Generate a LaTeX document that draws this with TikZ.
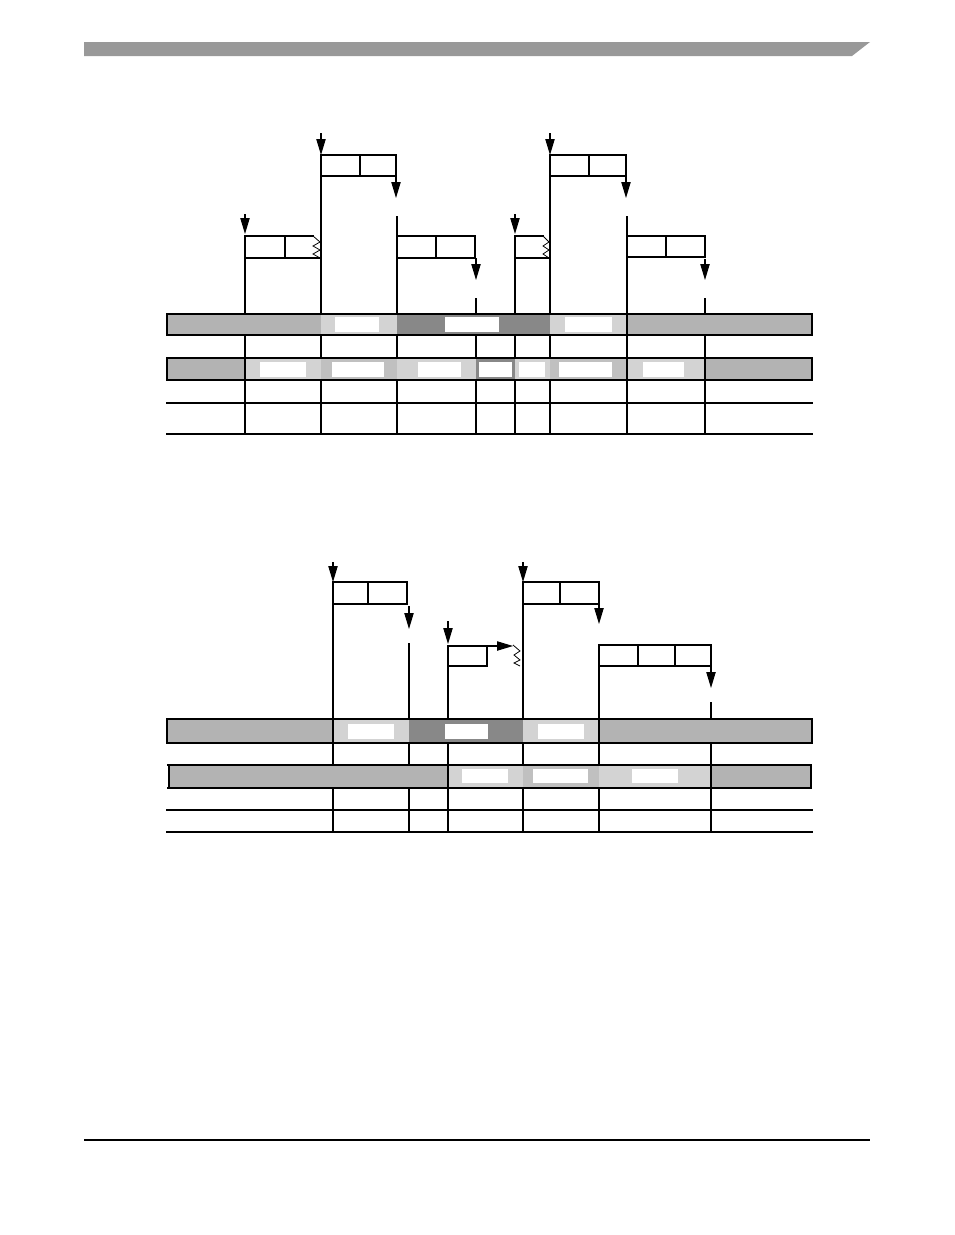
\documentclass[tikz,border=0pt]{standalone}
\usetikzlibrary{arrows.meta}
\definecolor{bargray}{HTML}{B3B3B3}
\definecolor{midgray}{HTML}{C0C0C0}
\definecolor{lightck}{HTML}{D3D3D3}
\definecolor{darkck}{HTML}{888888}
\definecolor{headgray}{HTML}{999999}
\tikzset{
  ln/.style={line width=0.85pt, line cap=rect},
  arr/.style={line width=0.8pt, -{Triangle[length=12pt,width=7pt]}},
  seg/.style={draw=black, line width=0.85pt},
  hole/.style={fill=white, draw=none},
}
\begin{document}
\begin{tikzpicture}[x=0.75pt,y=-0.75pt]
\useasboundingbox (0,0) rectangle (954,1235);
% header and footer
\fill[headgray] (84,42) -- (870,42) -- (852,56) -- (84,56) -- cycle;
\draw[line width=0.9pt] (84,1140) -- (870,1140);

% ================= diagram 1 =================
% vertical time lines
\foreach \x/\y in {245/258,321/155,397/217,476/299,515/258,550/155,627/217,705/299}
  \draw[ln] (\x,\y) -- (\x,434);
% horizontal lines below
\draw[ln] (167,403) -- (812,403);
\draw[ln] (167,434) -- (812,434);
\draw[line width=1.6pt] (245,403) -- (245,434);
% boxes
\draw[ln] (321,155) rectangle (396,176); \draw[ln] (360,155) -- (360,176);
\draw[ln] (313,236) -- (245,236) -- (245,258) -- (320,258);
\draw[ln] (285,236) -- (285,258);
\draw[line width=0.6pt] (313,236) -- (320,242) -- (313,246) -- (320,250) -- (313,254) -- (320,258);
\draw[ln] (397,236) rectangle (475,258); \draw[ln] (436,236) -- (436,258);
\draw[ln] (550,155) rectangle (626,176); \draw[ln] (589,155) -- (589,176);
\draw[ln] (543,236) -- (515,236) -- (515,258) -- (549,258);
\draw[line width=0.6pt] (543,236) -- (549,242) -- (543,246) -- (549,250) -- (543,254) -- (549,258);
\draw[ln] (627,236) rectangle (705,257); \draw[ln] (666,236) -- (666,257);
% arrows
\coordinate (a1s) at (321,133); \coordinate (a1e) at (321,155);
\coordinate (a2s) at (396,176); \coordinate (a2e) at (396,198);
\coordinate (a3s) at (245,214); \coordinate (a3e) at (245,234);
\coordinate (a4s) at (476,258); \coordinate (a4e) at (476,280);
\coordinate (a5s) at (550,133); \coordinate (a5e) at (550,155);
\coordinate (a6s) at (626,176); \coordinate (a6e) at (626,198);
\coordinate (a7s) at (515,214); \coordinate (a7e) at (515,234);
\coordinate (a8s) at (705,259); \coordinate (a8e) at (705,280);
\foreach \n in {1,...,8} \draw[arr] (a\n s) -- (a\n e);
% bar row 1
\fill[bargray] (167,314) rectangle (321,335);
\fill[lightck] (321,314) rectangle (397,335); \fill[hole] (335,317) rectangle (379,332);
\fill[darkck] (397,314) rectangle (550,335); \fill[hole] (445,317) rectangle (499,332);
\fill[lightck] (550,314) rectangle (627,335); \fill[hole] (565,317) rectangle (612,332);
\fill[bargray] (627,314) rectangle (812,335);
\draw[seg] (167,314) rectangle (812,335);
\draw[seg] (627,314) -- (627,335);
% bar row 2
\fill[bargray] (167,358) rectangle (245,380);
\fill[lightck] (245,358) rectangle (321,380); \fill[hole] (260,362) rectangle (306,377);
\fill[midgray] (321,358) rectangle (397,380); \fill[hole] (332,362) rectangle (384,377);
\fill[lightck] (397,358) rectangle (476,380); \fill[hole] (418,362) rectangle (461,377);
\fill[darkck] (476,358) rectangle (515,380); \fill[hole] (479,362) rectangle (512,377);
\fill[lightck] (515,358) rectangle (550,380); \fill[hole] (519,362) rectangle (545,377);
\fill[midgray] (550,358) rectangle (627,380); \fill[hole] (559,362) rectangle (612,377);
\fill[lightck] (627,358) rectangle (705,380); \fill[hole] (643,362) rectangle (684,377);
\fill[bargray] (705,358) rectangle (812,380);
\draw[seg] (167,358) rectangle (812,380);
\draw[seg] (245,358) -- (245,380);
\draw[seg] (627,358) -- (627,380);
\draw[seg] (705,358) -- (705,380);

% ================= diagram 2 =================
\foreach \x/\y in {333/604,409/644,448/666,523/604,599/645,711/703}
  \draw[ln] (\x,\y) -- (\x,832);
\draw[ln] (167,810) -- (812,810);
\draw[ln] (167,832) -- (812,832);
% boxes
\draw[ln] (333,582) rectangle (407,604); \draw[ln] (368,582) -- (368,604);
\draw[ln] (448,646) rectangle (487,666);
\draw[line width=0.6pt] (513,645) -- (520,651) -- (514,655) -- (520,660) -- (514,663) -- (520,666);
\draw[ln] (523,582) rectangle (599,604); \draw[ln] (560,582) -- (560,604);
\draw[ln] (599,645) rectangle (711,666);
\draw[ln] (638,645) -- (638,666); \draw[ln] (675,645) -- (675,666);
% arrows
\coordinate (b1s) at (333,562); \coordinate (b1e) at (333,582);
\coordinate (b2s) at (409,606); \coordinate (b2e) at (409,629);
\coordinate (b3s) at (448,621); \coordinate (b3e) at (448,644);
\coordinate (b4s) at (523,562); \coordinate (b4e) at (523,582);
\coordinate (b5s) at (599,604); \coordinate (b5e) at (599,624);
\coordinate (b6s) at (711,666); \coordinate (b6e) at (711,688);
\coordinate (b7s) at (487,646); \coordinate (b7e) at (513,646);
\foreach \n in {1,...,7} \draw[arr] (b\n s) -- (b\n e);
% bar row 1
\fill[bargray] (167,719) rectangle (333,743);
\fill[lightck] (333,719) rectangle (409,743); \fill[hole] (348,724) rectangle (394,739);
\fill[darkck] (409,719) rectangle (523,743); \fill[hole] (445,724) rectangle (488,739);
\fill[lightck] (523,719) rectangle (599,743); \fill[hole] (538,724) rectangle (584,739);
\fill[bargray] (599,719) rectangle (812,743);
\draw[seg] (167,719) rectangle (812,743);
\draw[seg] (333,719) -- (333,743);
\draw[seg] (599,719) -- (599,743);
% bar row 2
\fill[bargray] (169,765) rectangle (448,788);
\fill[lightck] (448,765) rectangle (523,788); \fill[hole] (462,769) rectangle (508,783);
\fill[midgray] (523,765) rectangle (599,788); \fill[hole] (533,769) rectangle (588,783);
\fill[lightck] (599,765) rectangle (711,788); \fill[hole] (632,769) rectangle (678,783);
\fill[bargray] (711,765) rectangle (811,788);
\draw[seg] (167,765) -- (812,765);
\draw[seg] (167,788) -- (812,788);
\draw[seg] (169,765) -- (169,788);
\draw[seg] (811,765) -- (811,788);
\draw[seg] (448,765) -- (448,788);
\draw[seg] (711,765) -- (711,788);
\end{tikzpicture}
\end{document}
